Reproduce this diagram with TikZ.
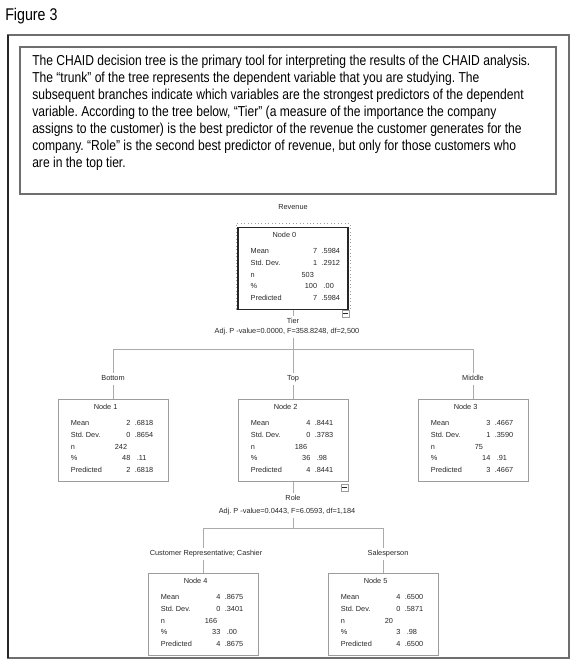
\documentclass[tikz,border=0pt]{standalone}
\usepackage{fontspec}
\setmainfont{Liberation Sans}
\newfontfamily\narrowfont{Liberation Sans}[FakeStretch=0.84]
\usetikzlibrary{calc}
\frenchspacing

\definecolor{framegray}{HTML}{6E6E6E}
\definecolor{linegray}{HTML}{ABABAB}
\definecolor{boxgray}{HTML}{9C9C9C}
\definecolor{textgray}{HTML}{262626}

\tikzset{
  treefont/.style={font=\fontsize{5.5}{6.6}\selectfont, text=textgray},
  treebox/.style={draw=boxgray, line width=0.6pt, anchor=north, inner sep=0pt,
    minimum width=82.5pt, minimum height=61.5pt},
  selbox/.style={draw=boxgray, line width=0.6pt, dotted, anchor=north, inner sep=0pt,
    minimum width=85.5pt, minimum height=64.5pt},
  treelabel/.style={treefont, inner sep=1.5pt, text height=4pt, text depth=1.2pt},
  treetitle/.style={treefont, inner sep=0pt, anchor=base},
  statlab/.style={treefont, inner sep=0pt, anchor=base west},
  statint/.style={treefont, inner sep=0pt, anchor=base east},
  statdec/.style={treefont, inner sep=0pt, anchor=base west},
  minusbox/.style={draw=boxgray, line width=0.5pt, inner sep=0pt, minimum size=5.25pt,
    path picture={\draw[textgray, line width=0.5pt]
      ([xshift=1pt]path picture bounding box.west) -- ([xshift=-1pt]path picture bounding box.east);}},
  branch/.style={draw=linegray, line width=0.55pt},
}

% one row of a node table: node, row, label, whole part, decimals, decimals column
\newcommand{\colshift}{0}
\newcommand{\statrow}[6]{%
  \node[statlab] (#1r#2a) at ($(#1.north west)+(13,{26.6+11.7*#2})$) {#3};%
  \node[statint] (#1r#2b) at ($(#1.north west)+({73+\colshift},{26.6+11.7*#2})$) {#4};%
  \node[statdec] (#1r#2c) at ($(#1.north west)+({#6+\colshift},{26.6+11.7*#2})$) {#5};%
}

\begin{document}
\begin{tikzpicture}[x=0.75pt,y=-0.75pt]
\useasboundingbox (0,0) rectangle (576,664);

% Figure caption
\node[anchor=base west, inner sep=0pt, font=\narrowfont\fontsize{12.7}{15}\selectfont]
  (figlabel) at (5,20) {Figure 3};%

% Outer frame
\draw[framegray, line width=1.5pt] (8,35) rectangle (569,658);%
\draw[black!85, line width=1.1pt] (8,35) -- (8,658);%

% Text box
\draw[framegray, line width=1.5pt] (20,47) rectangle (556,194);%
\node[anchor=north west, inner sep=0pt, align=left,
  font=\narrowfont\fontsize{10.8}{12.75}\selectfont] (intro) at (32,54.5)
  {The CHAID decision tree is the primary tool for interpreting the results of the CHAID analysis.\\
   The “trunk” of the tree represents the dependent variable that you are studying. The\\
   subsequent branches indicate which variables are the strongest predictors of the dependent\\
   variable. According to the tree below, “Tier” (a measure of the importance the company\\
   assigns to the customer) is the best predictor of the revenue the customer generates for the\\
   company. “Role” is the second best predictor of revenue, but only for those customers who\\
   are in the top tier.};%

% Dependent variable
\node[treelabel] (revenue) at (293,208) {Revenue};%

% Node 0 (selected)
\node[selbox] (n0sel) at (293,223) {};%
\node[treebox, draw=textgray, line width=0.9pt] (n0) at (293,227) {};%
\node[minusbox] (n0m) at (345.5,313.5) {};%
\begin{scope}
\renewcommand{\colshift}{7}
\node[treetitle] (n0t) at ($(n0.north west)+(47,10.6)$) {Node 0};%
\statrow{n0}{0}{Mean}{7}{.5984}{77}
\statrow{n0}{1}{Std. Dev.}{1}{.2912}{77}
\statrow{n0}{2}{n}{}{503}{57}
\statrow{n0}{3}{\%}{100}{.00}{79}
\statrow{n0}{4}{Predicted}{7}{.5984}{77}
\end{scope}

% Split on Tier
\node[treelabel] (tier) at (293,322) {Tier};%
\node[treelabel] (tierstat) at (287,332) {Adj. P -value=0.0000, F=358.8248, df=2,500};%
\coordinate (tiersplit) at (293,349);%
\coordinate (bottomsplit) at (113,349);%
\coordinate (middlesplit) at (473,349);%
\node[treelabel] (bottom) at (113,379) {Bottom};%
\node[treelabel] (top) at (293,379) {Top};%
\node[treelabel] (middle) at (473,379) {Middle};%

% Node 1
\node[treebox] (n1) at (113,399) {};%
\node[treetitle] (n1t) at ($(n1.north west)+(48,10.6)$) {Node 1};%
\statrow{n1}{0}{Mean}{2}{.6818}{77}
\statrow{n1}{1}{Std. Dev.}{0}{.8654}{77}
\statrow{n1}{2}{n}{}{242}{57}
\statrow{n1}{3}{\%}{48}{.11}{79}
\statrow{n1}{4}{Predicted}{2}{.6818}{77}

% Node 2
\node[treebox] (n2) at (293,399) {};%
\node[minusbox] (n2m) at (344.5,487.5) {};%
\node[treetitle] (n2t) at ($(n2.north west)+(48,10.6)$) {Node 2};%
\statrow{n2}{0}{Mean}{4}{.8441}{77}
\statrow{n2}{1}{Std. Dev.}{0}{.3783}{77}
\statrow{n2}{2}{n}{}{186}{57}
\statrow{n2}{3}{\%}{36}{.98}{79}
\statrow{n2}{4}{Predicted}{4}{.8441}{77}

% Node 3
\node[treebox] (n3) at (473,399) {};%
\node[treetitle] (n3t) at ($(n3.north west)+(48,10.6)$) {Node 3};%
\statrow{n3}{0}{Mean}{3}{.4667}{77}
\statrow{n3}{1}{Std. Dev.}{1}{.3590}{77}
\statrow{n3}{2}{n}{}{75}{57}
\statrow{n3}{3}{\%}{14}{.91}{79}
\statrow{n3}{4}{Predicted}{3}{.4667}{77}

% Split on Role
\node[treelabel] (role) at (293,499) {Role};%
\node[treelabel] (rolestat) at (287,512) {Adj. P -value=0.0443, F=6.0593, df=1,184};%
\coordinate (rolesplit) at (293,528);%
\coordinate (custsplit) at (203,528);%
\coordinate (salessplit) at (383,528);%
\node[treelabel] (custrep) at (206,554) {Customer Representative; Cashier};%
\node[treelabel] (sales) at (388,554) {Salesperson};%

% Node 4
\node[treebox] (n4) at (203,573) {};%
\node[treetitle] (n4t) at ($(n4.north west)+(48,10.6)$) {Node 4};%
\statrow{n4}{0}{Mean}{4}{.8675}{77}
\statrow{n4}{1}{Std. Dev.}{0}{.3401}{77}
\statrow{n4}{2}{n}{}{166}{57}
\statrow{n4}{3}{\%}{33}{.00}{79}
\statrow{n4}{4}{Predicted}{4}{.8675}{77}

% Node 5
\node[treebox] (n5) at (383,573) {};%
\node[treetitle] (n5t) at ($(n5.north west)+(48,10.6)$) {Node 5};%
\statrow{n5}{0}{Mean}{4}{.6500}{77}
\statrow{n5}{1}{Std. Dev.}{0}{.5871}{77}
\statrow{n5}{2}{n}{}{20}{57}
\statrow{n5}{3}{\%}{3}{.98}{79}
\statrow{n5}{4}{Predicted}{4}{.6500}{77}

% Branches
\draw[branch] (n0sel.south) -- (tier.north);%
\draw[branch] (tiersplit |- tierstat.south) -- (tiersplit);%
\draw[branch] (bottomsplit) -- (middlesplit);%
\draw[branch] (bottomsplit) -- (bottom.north);%
\draw[branch] (bottom.south) -- (n1.north);%
\draw[branch] (tiersplit) -- (top.north);%
\draw[branch] (top.south) -- (n2.north);%
\draw[branch] (middlesplit) -- (middle.north);%
\draw[branch] (middle.south) -- (n3.north);%
\draw[branch] (n2.south) -- (role.north);%
\draw[branch] (rolesplit |- rolestat.south) -- (rolesplit);%
\draw[branch] (custsplit) -- (salessplit);%
\draw[branch] (custsplit) -- (custsplit |- custrep.north);%
\draw[branch] (custsplit |- custrep.south) -- (n4.north);%
\draw[branch] (salessplit) -- (salessplit |- sales.north);%
\draw[branch] (salessplit |- sales.south) -- (n5.north);%
\end{tikzpicture}
\end{document}
